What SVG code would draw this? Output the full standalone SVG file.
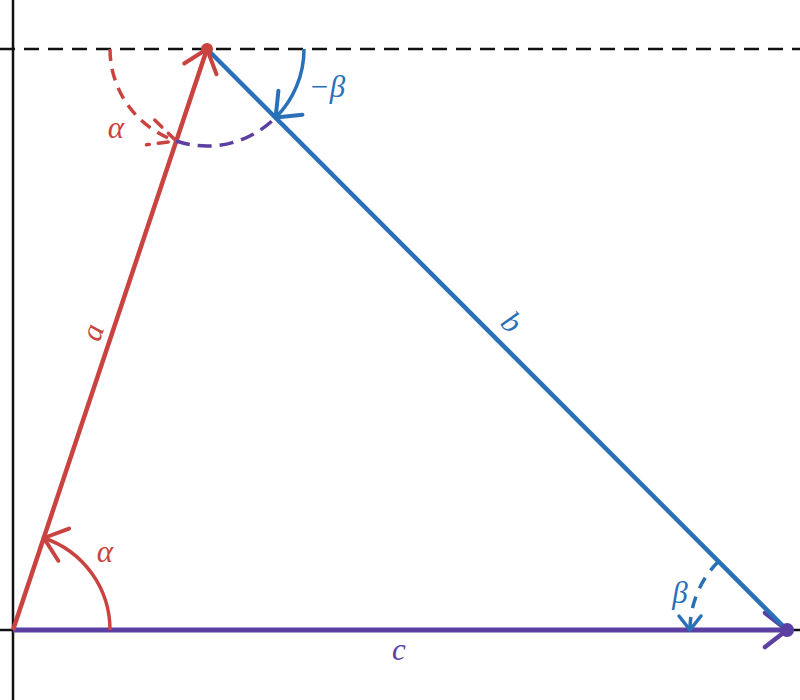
<svg xmlns="http://www.w3.org/2000/svg" width="800" height="700" viewBox="0 0 800 700">
<style>
.ax{stroke:#111;stroke-width:2.5;fill:none}
.lbl{font-family:"Liberation Serif","DejaVu Serif",serif;font-style:italic;font-size:31px;text-anchor:middle;dominant-baseline:central}
.red{stroke:#c94440;fill:none}
.blue{stroke:#2a70b8;fill:none}
.pur{stroke:#5c3fa2;fill:none}
</style>
<defs>
<marker id="hr" markerUnits="userSpaceOnUse" viewBox="-30 -25 40 50" refX="0" refY="0" markerWidth="40" markerHeight="50" orient="auto" overflow="visible">
<path d="M-21,-17 L0,0 L-21,17" fill="none" stroke="#c94440" stroke-width="4" stroke-linecap="round" stroke-linejoin="round"/>
</marker>
<marker id="hrd" markerUnits="userSpaceOnUse" viewBox="-30 -25 40 50" refX="0" refY="0" markerWidth="40" markerHeight="50" orient="auto" overflow="visible">
<path d="M-27,-13 L0,0 L-27,13" fill="none" stroke="#c94440" stroke-width="3.5" stroke-dasharray="10 9" stroke-linecap="round"/>
</marker>
<marker id="hb" markerUnits="userSpaceOnUse" viewBox="-30 -25 40 50" refX="0" refY="0" markerWidth="40" markerHeight="50" orient="auto" overflow="visible">
<path d="M-21,-17 L0,0 L-21,17" fill="none" stroke="#2a70b8" stroke-width="4" stroke-linecap="round" stroke-linejoin="round"/>
</marker>
<marker id="hbs" markerUnits="userSpaceOnUse" viewBox="-30 -25 40 50" refX="0" refY="0" markerWidth="40" markerHeight="50" orient="auto" overflow="visible">
<path d="M-14,-11 L0,0 L-14,11" fill="none" stroke="#2a70b8" stroke-width="3.5" stroke-linecap="round" stroke-linejoin="round"/>
</marker>
<marker id="hp" markerUnits="userSpaceOnUse" viewBox="-30 -25 40 50" refX="0" refY="0" markerWidth="40" markerHeight="50" orient="auto" overflow="visible">
<path d="M-22,-17 L0,0 L-22,17" fill="none" stroke="#5c3fa2" stroke-width="4.5" stroke-linecap="round" stroke-linejoin="round"/>
</marker>
</defs>
<rect width="800" height="700" fill="#fff"/>
<g id="axes">
<line class="ax" x1="13" y1="0" x2="13" y2="700"/>
<line class="ax" x1="0" y1="630" x2="800" y2="630"/>
<line class="ax" x1="0" y1="49" x2="800" y2="49" stroke-width="3" stroke-dasharray="15 9"/>
</g>
<g id="connectors">
<line id="vec-c" class="pur" x1="13" y1="630" x2="787" y2="630" stroke-width="5" marker-end="url(#hp)"/>
<line id="vec-b" class="blue" x1="207" y1="49" x2="787" y2="630" stroke-width="4.5"/>
<line id="vec-a" class="red" x1="13" y1="630" x2="207" y2="49" stroke-width="4.5" marker-end="url(#hr)"/>
<path id="arc-alpha" class="red" stroke-width="3.5" d="M110,630 A97,97 0 0 0 43.8,538" marker-end="url(#hr)"/>
<path id="arc-alpha-top" class="red" stroke-width="3.5" stroke-dasharray="12 8" d="M110,49 A97,97 0 0 0 176.2,141" marker-end="url(#hrd)"/>
<path id="arc-apex" class="pur" stroke-width="3.5" stroke-dasharray="14 8" d="M176.2,141 A97,97 0 0 0 275.6,117.6"/>
<path id="arc-negbeta" class="blue" stroke-width="3.5" d="M304,49 A97,97 0 0 1 275.6,117.6" marker-end="url(#hb)"/>
<path id="arc-beta" class="blue" stroke-width="3.5" stroke-dasharray="12 9" d="M718.4,561.4 A97,97 0 0 0 690,630" marker-end="url(#hbs)"/>
</g>
<g id="node-apex"><circle cx="207" cy="49" r="6" fill="#c94440"/></g>
<g id="node-end"><circle cx="787" cy="630" r="7" fill="#5c3fa2"/></g>
<g id="labels">
<text class="lbl" x="105" y="551" fill="#c94440">α</text>
<text class="lbl" x="116" y="127" fill="#c94440">α</text>
<text class="lbl" x="327" y="86" fill="#2a70b8">−β</text>
<text class="lbl" x="680" y="592" fill="#2a70b8">β</text>
<text class="lbl" x="399" y="649" fill="#5c3fa2">c</text>
<text class="lbl" transform="translate(92,332) rotate(-71.5)" fill="#c94440">a</text>
<text class="lbl" transform="translate(512,322) rotate(45)" fill="#2a70b8">b</text>
</g>
</svg>
